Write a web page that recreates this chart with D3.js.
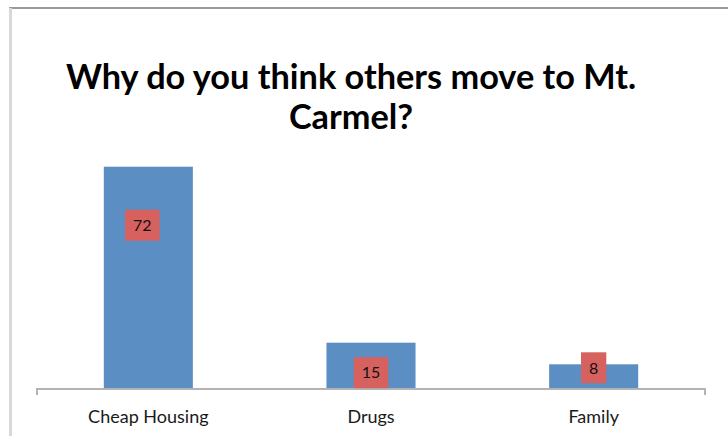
<!DOCTYPE html>
<html>
<head>
<meta charset="utf-8">
<script src="https://cdn.jsdelivr.net/npm/d3@7"></script>
<style>
  html, body { margin: 0; padding: 0; background: #fff; }
  svg { display: block; }
</style>
</head>
<body>
<svg id="chart" width="728" height="436"></svg>
<script>
// Survey responses
const categories = ["Cheap Housing", "Drugs", "Family"];
const values = [72, 15, 8];
const titleLines = ["Why do you think others move to Mt.", "Carmel?"];

// Offset of each value tag's centre from its bar's top-centre (layout)
const tagDx = [-6, 0, 0];
const tagDy = [58.5, 30, 3.5];

const W = 728, H = 436;
const svg = d3.select("#chart");
const FONT = "Lato, 'Open Sans', sans-serif";

// chart frame (extends past the right and bottom edges)
svg.append("line").attr("x1", 9).attr("x2", W + 5).attr("y1", 8).attr("y2", 8)
  .attr("stroke", "#9a9a9a").attr("stroke-width", 2);
svg.append("line").attr("x1", 10.5).attr("x2", 10.5).attr("y1", 8).attr("y2", H + 5)
  .attr("stroke", "#d9d9d9").attr("stroke-width", 3);

// title
const title = svg.append("text")
  .attr("text-anchor", "middle")
  .attr("font-family", FONT)
  .attr("font-weight", "bold")
  .attr("font-size", 34.3)
  .attr("fill", "#000");
titleLines.forEach((t, i) => {
  title.append("tspan").attr("x", 351).attr("y", 89 + i * 40).text(t);
});

// scales
const x = d3.scaleBand().domain(categories).range([37, 705])
  .paddingInner(0.6).paddingOuter(0.3);
const y = d3.scaleLinear().domain([0, 80]).range([389, 142]);

// bars
svg.append("g").selectAll("rect").data(values).join("rect")
  .attr("x", (d, i) => x(categories[i]))
  .attr("width", x.bandwidth())
  .attr("y", d => y(d))
  .attr("height", d => y(0) - y(d))
  .attr("fill", "#5b8fc3");

// category axis
const axis = d3.axisBottom(x).tickSize(0).tickPadding(21);
const ag = svg.append("g").attr("transform", `translate(0,${y(0)})`).call(axis);
ag.select(".domain").remove();
ag.append("path")
  .attr("d", `M37,6V0H705V6`)
  .attr("fill", "none").attr("stroke", "#b3b3b3").attr("stroke-width", 2);
ag.selectAll(".tick text")
  .attr("font-family", FONT)
  .attr("font-size", 18)
  .attr("fill", "#1a1a1a");

// value tags
const tags = svg.append("g").selectAll("g").data(values).join("g")
  .attr("transform", (d, i) =>
    `translate(${x(categories[i]) + x.bandwidth() / 2 + tagDx[i]},${y(d) + tagDy[i]})`);
tags.append("text")
  .attr("text-anchor", "middle")
  .attr("dy", "0.36em")
  .attr("font-family", FONT)
  .attr("font-size", 16)
  .attr("fill", "#111")
  .text(d => d);
tags.each(function () {
  const g = d3.select(this);
  const tw = g.select("text").node().getComputedTextLength();
  g.insert("rect", "text")
    .attr("x", -tw / 2 - 8).attr("width", tw + 16)
    .attr("y", -15.5).attr("height", 31)
    .attr("fill", "#d6615f");
});
</script>
</body>
</html>
